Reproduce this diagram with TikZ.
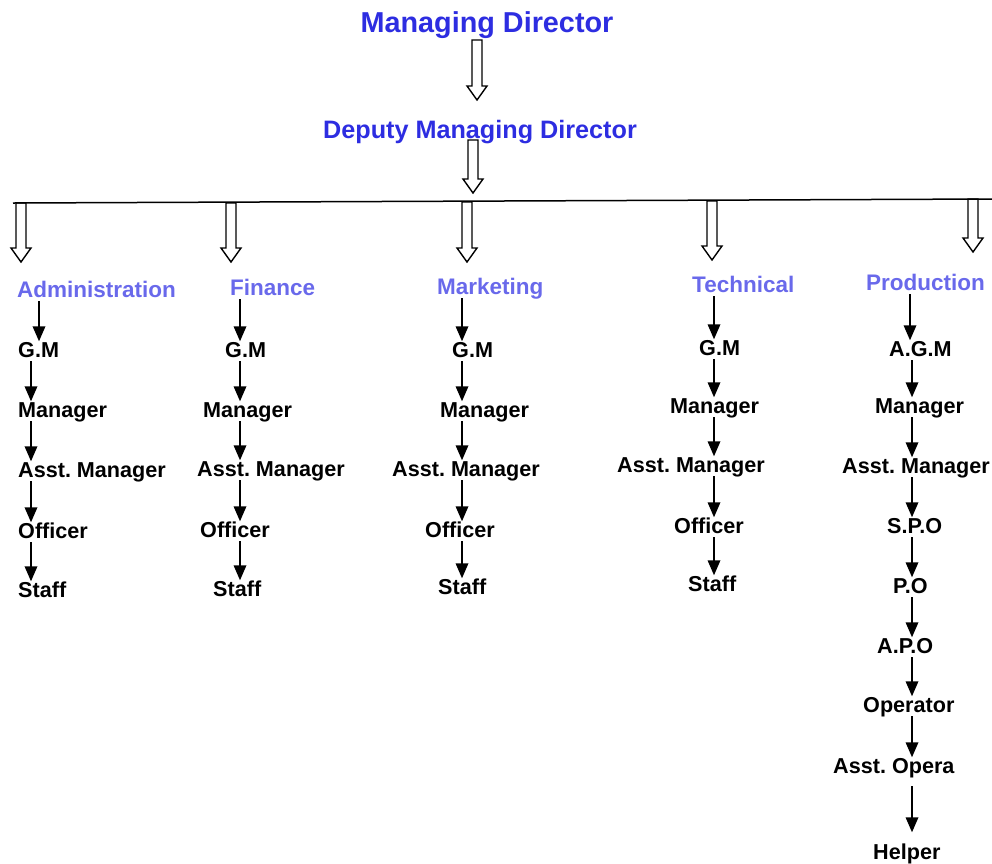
\documentclass[tikz,border=0pt]{standalone}
\usepackage{fontspec}
\setmainfont{Liberation Sans}
\usetikzlibrary{arrows.meta,calc}
\definecolor{topblue}{RGB}{45,45,225}
\definecolor{hdrblue}{RGB}{105,105,235}
\newcommand\hollowarr[2]{%
 \draw[hollow] ($(#1)+(-5,0)$) -- ($(#2)+(-5,-14)$) -- ($(#2)+(-10,-14)$) -- (#2) -- ($(#2)+(10,-14)$) -- ($(#2)+(5,-14)$) -- ($(#1)+(5,0)$) -- cycle;}
\frenchspacing
\begin{document}
\begin{tikzpicture}[x=1pt,y=-1pt,
 lbl/.style={font=\bfseries\fontsize{21.6}{24}\selectfont, inner sep=0pt, text height=15.5pt, text depth=4pt, anchor=base west},
 hdr/.style={lbl, text=hdrblue, font=\bfseries\fontsize{22.5}{26}\selectfont, text height=16pt},
 ttl/.style={inner sep=0pt, text=topblue, anchor=base},
 arr/.style={line width=1.8pt, -{Triangle[width=12.5pt,length=15pt]}},
 hollow/.style={line width=1.4pt, line join=miter}]
\useasboundingbox (0,0) rectangle (992,863);

% titles
\node[ttl, font=\bfseries\fontsize{28.8}{32}\selectfont] (md) at (487,32) {Managing Director};
\node[ttl, font=\bfseries\fontsize{25.2}{28}\selectfont] (dmd) at (480,138) {Deputy Managing Director};

% bar
\coordinate (bl) at (13,203);
\coordinate (br) at (992,199);
\draw[line width=1.5pt] (bl) -- (br);

% hollow arrows
\coordinate (h1t) at (477,40);  \coordinate (h1b) at (477,100);
\coordinate (h2t) at (473,140); \coordinate (h2b) at (473,193);
\coordinate (hat) at (21,203);  \coordinate (hab) at (21,262);
\coordinate (hft) at (231,203); \coordinate (hfb) at (231,262);
\coordinate (hmt) at (467,202); \coordinate (hmb) at (467,262);
\coordinate (htt) at (712,201); \coordinate (htb) at (712,260);
\coordinate (hpt) at (973,199); \coordinate (hpb) at (973,252);
\hollowarr{h1t}{h1b}
\hollowarr{h2t}{h2b}
\hollowarr{hat}{hab}
\hollowarr{hft}{hfb}
\hollowarr{hmt}{hmb}
\hollowarr{htt}{htb}
\hollowarr{hpt}{hpb}

% column x positions for arrows
\coordinate (cA0) at (39,0);  \coordinate (cA) at (31,0);
\coordinate (cF) at (240,0);
\coordinate (cM) at (462,0);
\coordinate (cT) at (714,0);
\coordinate (cP0) at (910,0); \coordinate (cP) at (912,0);

% Administration
\node[hdr] (hA) at (17,297) {Administration};
\node[lbl] (gm1) at (18,357) {G.M};
\node[lbl] (mg1) at (18,417) {Manager};
\node[lbl] (am1) at (18,477) {Asst. Manager};
\node[lbl] (of1) at (18,538) {Officer};
\node[lbl] (st1) at (18,597) {Staff};
\draw[arr] (hA.south -| cA0) -- (gm1.north -| cA0);
\draw[arr] (gm1.south -| cA) -- (mg1.north -| cA);
\draw[arr] (mg1.south -| cA) -- (am1.north -| cA);
\draw[arr] (am1.south -| cA) -- (of1.north -| cA);
\draw[arr] (of1.south -| cA) -- (st1.north -| cA);

% Finance
\node[hdr] (hF) at (230,295) {Finance};
\node[lbl] (gm2) at (225,357) {G.M};
\node[lbl] (mg2) at (203,417) {Manager};
\node[lbl] (am2) at (197,476) {Asst. Manager};
\node[lbl] (of2) at (200,537) {Officer};
\node[lbl] (st2) at (213,596) {Staff};
\draw[arr] (hF.south -| cF) -- (gm2.north -| cF);
\draw[arr] (gm2.south -| cF) -- (mg2.north -| cF);
\draw[arr] (mg2.south -| cF) -- (am2.north -| cF);
\draw[arr] (am2.south -| cF) -- (of2.north -| cF);
\draw[arr] (of2.south -| cF) -- (st2.north -| cF);

% Marketing
\node[hdr] (hM) at (437,294) {Marketing};
\node[lbl] (gm3) at (452,357) {G.M};
\node[lbl] (mg3) at (440,417) {Manager};
\node[lbl] (am3) at (392,476) {Asst. Manager};
\node[lbl] (of3) at (425,537) {Officer};
\node[lbl] (st3) at (438,594) {Staff};
\draw[arr] (hM.south -| cM) -- (gm3.north -| cM);
\draw[arr] (gm3.south -| cM) -- (mg3.north -| cM);
\draw[arr] (mg3.south -| cM) -- (am3.north -| cM);
\draw[arr] (am3.south -| cM) -- (of3.north -| cM);
\draw[arr] (of3.south -| cM) -- (st3.north -| cM);

% Technical
\node[hdr] (hT) at (692,292) {Technical};
\node[lbl] (gm4) at (699,355) {G.M};
\node[lbl] (mg4) at (670,413) {Manager};
\node[lbl] (am4) at (617,472) {Asst. Manager};
\node[lbl] (of4) at (674,533) {Officer};
\node[lbl] (st4) at (688,591) {Staff};
\draw[arr] (hT.south -| cT) -- (gm4.north -| cT);
\draw[arr] (gm4.south -| cT) -- (mg4.north -| cT);
\draw[arr] (mg4.south -| cT) -- (am4.north -| cT);
\draw[arr] (am4.south -| cT) -- (of4.north -| cT);
\draw[arr] (of4.south -| cT) -- (st4.north -| cT);

% Production
\node[hdr] (hP) at (866,290) {Production};
\node[lbl] (agm) at (889,356) {A.G.M};
\node[lbl] (mg5) at (875,413) {Manager};
\node[lbl] (am5) at (842,473) {Asst. Manager};
\node[lbl] (spo) at (887,533) {S.P.O};
\node[lbl] (po)  at (893,593) {P.O};
\node[lbl] (apo) at (877,653) {A.P.O};
\node[lbl] (opr) at (863,712) {Operator};
\node[lbl] (aop) at (833,773) {Asst. Opera};
\node[lbl] (hlp) at (873,859) {Helper};
\draw[arr] (hP.south -| cP0) -- (agm.north -| cP0);
\draw[arr] (agm.south -| cP) -- (mg5.north -| cP);
\draw[arr] (mg5.south -| cP) -- (am5.north -| cP);
\draw[arr] (am5.south -| cP) -- (spo.north -| cP);
\draw[arr] (spo.south -| cP) -- (po.north -| cP);
\draw[arr] (po.south -| cP) -- (apo.north -| cP);
\draw[arr] (apo.south -| cP) -- (opr.north -| cP);
\draw[arr] (opr.south -| cP) -- (aop.north -| cP);
\draw[arr, shorten >=11pt] ($(aop.south -| cP)+(0,9)$) -- (hlp.north -| cP);
\end{tikzpicture}
\end{document}
